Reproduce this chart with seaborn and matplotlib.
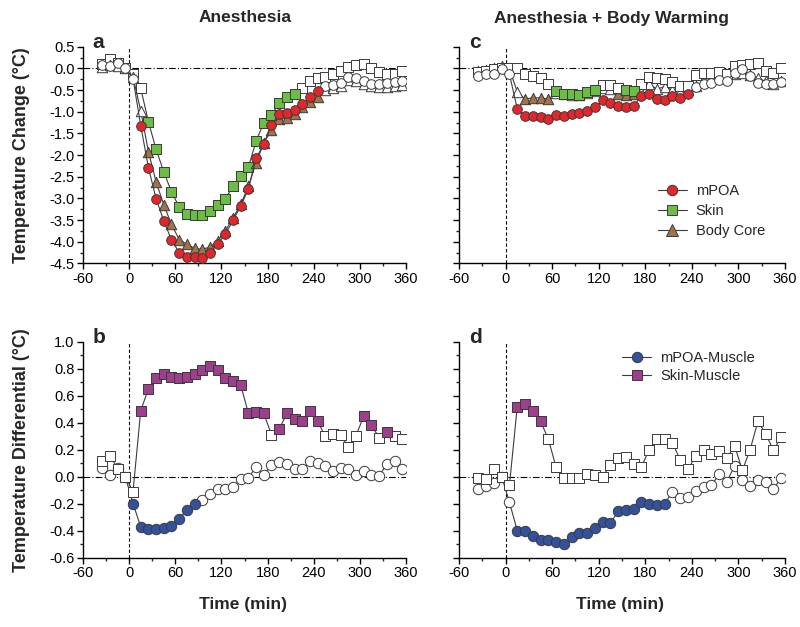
import numpy as np
import pandas as pd
import matplotlib
matplotlib.use("Agg")
import matplotlib.pyplot as plt
import seaborn as sns
from matplotlib.lines import Line2D
from matplotlib.ticker import MultipleLocator, FormatStrFormatter

# time points (min), every 10 min
times = list(range(-35, 360, 10))

# panel a: Anesthesia, temperature change (°C)
a_mpoa = [0.07, 0.05, 0.12, 0.0, -0.24, -1.32, -2.29, -3.01, -3.52, -3.96,
          -4.25, -4.35, -4.35, -4.37, -4.25, -4.05, -3.83, -3.51, -3.18, -2.78,
          -2.08, -1.74, -1.31, -1.05, -1.04, -0.96, -0.82, -0.65, -0.53, -0.41,
          -0.38, -0.33, -0.20, -0.23, -0.30, -0.36, -0.36, -0.33, -0.31, -0.28]
a_skin = [0.09, 0.21, 0.12, 0.0, -0.14, -0.46, -1.23, -1.87, -2.39, -2.85,
          -3.20, -3.35, -3.38, -3.39, -3.29, -3.15, -3.01, -2.72, -2.49, -2.28,
          -1.68, -1.25, -1.08, -0.80, -0.65, -0.58, -0.45, -0.29, -0.22, -0.19,
          -0.12, -0.06, 0.03, 0.08, 0.11, 0.02, -0.08, -0.12, -0.12, -0.05]
a_core = [0.03, 0.08, 0.06, 0.0, -0.20, -0.98, -1.92, -2.62, -3.15, -3.60,
          -3.95, -4.06, -4.15, -4.18, -4.12, -3.98, -3.75, -3.45, -3.14, -2.72,
          -2.18, -1.72, -1.43, -1.18, -1.15, -1.06, -0.89, -0.77, -0.65, -0.50,
          -0.45, -0.40, -0.27, -0.30, -0.36, -0.40, -0.42, -0.42, -0.40, -0.38]
a_mpoa_sig = [(15, 245)]
a_skin_sig = [(25, 215)]
a_core_sig = [(25, 245)]

# panel c: Anesthesia + Body Warming, temperature change (°C)
c_mpoa = [-0.18, -0.14, -0.12, -0.01, -0.14, -0.93, -1.10, -1.11, -1.13, -1.16,
          -1.08, -1.09, -1.06, -1.02, -0.98, -0.90, -0.74, -0.81, -0.86, -0.89,
          -0.86, -0.64, -0.58, -0.71, -0.73, -0.64, -0.69, -0.58, -0.43, -0.37,
          -0.33, -0.27, -0.29, -0.10, -0.02, -0.18, -0.33, -0.37, -0.37, -0.31]
c_skin = [-0.08, -0.06, -0.02, 0.02, 0.02, 0.0, -0.14, -0.18, -0.23, -0.37,
          -0.52, -0.58, -0.60, -0.61, -0.54, -0.50, -0.39, -0.39, -0.45, -0.50,
          -0.52, -0.37, -0.20, -0.23, -0.25, -0.31, -0.41, -0.41, -0.16, -0.10,
          -0.10, -0.08, -0.12, 0.05, 0.08, 0.09, 0.12, -0.05, -0.10, 0.0]
c_core = [-0.05, -0.03, 0.0, 0.05, -0.02, -0.54, -0.71, -0.68, -0.68, -0.71,
          -0.56, -0.60, -0.62, -0.62, -0.57, -0.53, -0.45, -0.47, -0.60, -0.62,
          -0.60, -0.55, -0.36, -0.48, -0.42, -0.50, -0.55, -0.50, -0.40, -0.30,
          -0.25, -0.22, -0.20, -0.12, -0.10, -0.15, -0.22, -0.30, -0.35, -0.30]
c_mpoa_sig = [(15, 235)]
c_skin_sig = [(65, 115), (155, 165)]
c_core_sig = [(25, 55), (145, 165)]

# panel b: Anesthesia, temperature differential (°C)
b_mpoa_muscle = [0.065, 0.01, 0.065, 0.0, -0.20, -0.37, -0.39, -0.39, -0.38, -0.365,
                 -0.31, -0.25, -0.20, -0.17, -0.13, -0.09, -0.09, -0.075, -0.02, -0.01,
                 0.075, 0.01, 0.09, 0.11, 0.095, 0.06, 0.055, 0.115, 0.10, 0.08,
                 0.045, 0.065, 0.055, 0.01, 0.045, 0.01, 0.005, 0.095, 0.115, 0.055]
b_skin_muscle = [0.12, 0.155, 0.06, 0.0, -0.11, 0.49, 0.65, 0.73, 0.76, 0.74,
                 0.73, 0.735, 0.76, 0.79, 0.82, 0.79, 0.73, 0.71, 0.68, 0.47,
                 0.48, 0.47, 0.31, 0.35, 0.47, 0.43, 0.41, 0.49, 0.41, 0.30,
                 0.32, 0.31, 0.22, 0.305, 0.45, 0.38, 0.29, 0.33, 0.30, 0.28]
b_mpoa_sig = [(5, 85)]
b_skin_sig = [(15, 175), (195, 245), (305, 315), (335, 335)]

# panel d: Anesthesia + Body Warming, temperature differential (°C)
d_mpoa_muscle = [-0.09, -0.07, -0.05, 0.0, -0.19, -0.40, -0.40, -0.44, -0.47, -0.47,
                 -0.48, -0.50, -0.45, -0.42, -0.42, -0.38, -0.335, -0.345, -0.255, -0.243,
                 -0.236, -0.19, -0.20, -0.21, -0.20, -0.11, -0.156, -0.15, -0.107, -0.077,
                 -0.065, 0.017, -0.037, 0.08, -0.027, -0.07, -0.027, -0.037, -0.09, -0.012]
d_skin_muscle = [-0.01, -0.02, 0.06, 0.0, -0.06, 0.52, 0.54, 0.49, 0.41, 0.28,
                 0.07, -0.01, -0.01, -0.01, 0.02, 0.01, 0.0, 0.09, 0.14, 0.146,
                 0.097, 0.074, 0.20, 0.28, 0.28, 0.25, 0.124, 0.055, 0.154, 0.20,
                 0.17, 0.19, 0.136, 0.23, 0.047, 0.20, 0.41, 0.32, 0.196, 0.295]
d_mpoa_sig = [(15, 205)]
d_skin_sig = [(15, 45)]

RED = "#e3262b"
GREEN = "#6cbd45"
BROWN = "#a27348"
BLUE = "#34519c"
PURPLE = "#9e3f8e"
LINE = "#3c3c3c"
EDGE = "#3a3a3a"

sns.set_style("ticks")
plt.rcParams["font.family"] = ["Liberation Sans", "DejaVu Sans"]
plt.rcParams["axes.unicode_minus"] = False


def draw_series(ax, values, sig, color, marker, size, z):
    df = pd.DataFrame({"t": times, "v": values})
    df["filled"] = [any(lo <= t <= hi for lo, hi in sig) for t in times]
    sns.lineplot(data=df, x="t", y="v", ax=ax, color=LINE, lw=0.8,
                 zorder=z, legend=False)
    sns.scatterplot(data=df[~df["filled"]], x="t", y="v", ax=ax, marker=marker,
                    s=size, color="white", edgecolor=EDGE, linewidth=0.7,
                    zorder=z + 0.5, legend=False)
    sns.scatterplot(data=df[df["filled"]], x="t", y="v", ax=ax, marker=marker,
                    s=size, color=color, edgecolor=EDGE, linewidth=0.7,
                    zorder=z + 0.6, legend=False)


def style_axes(ax, ylim, major, minor, show_ylabels, letter):
    ax.set_xlim(-60, 360)
    ax.set_ylim(*ylim)
    ax.xaxis.set_major_locator(MultipleLocator(60))
    ax.xaxis.set_minor_locator(MultipleLocator(30))
    ax.yaxis.set_major_locator(MultipleLocator(major))
    ax.yaxis.set_minor_locator(MultipleLocator(minor))
    ax.yaxis.set_major_formatter(FormatStrFormatter("%.1f"))
    ax.tick_params(axis="both", which="major", direction="out", length=4,
                   width=1.0, labelsize=10.5, colors="black", pad=2)
    ax.tick_params(axis="both", which="minor", direction="out", length=2.5,
                   width=1.0)
    if not show_ylabels:
        ax.tick_params(axis="y", which="both", labelleft=False)
    ax.axhline(0, color="black", lw=0.8, ls=(0, (6, 2, 1, 2)), zorder=1)
    ax.axvline(0, color="black", lw=0.8, ls=(0, (3, 2)), zorder=1)
    ax.set_xlabel("")
    ax.set_ylabel("")
    for sp in ["left", "bottom"]:
        ax.spines[sp].set_linewidth(1.0)
        ax.spines[sp].set_color("black")
    sns.despine(ax=ax)
    ax.text(0.03, 1.02, letter, transform=ax.transAxes, fontsize=15,
            fontweight="bold", ha="left", va="center")


fig = plt.figure(figsize=(8, 6.27), dpi=100)
ax_a = fig.add_axes([0.1038, 0.580, 0.4038, 0.3455])
ax_c = fig.add_axes([0.5738, 0.580, 0.4075, 0.3455])
ax_b = fig.add_axes([0.1038, 0.1105, 0.4038, 0.3445])
ax_d = fig.add_axes([0.5738, 0.1105, 0.4075, 0.3445])

SQ, CI, TR = 44, 48, 56

draw_series(ax_a, a_skin, a_skin_sig, GREEN, "s", SQ, 3)
draw_series(ax_a, a_core, a_core_sig, BROWN, "^", TR, 4)
draw_series(ax_a, a_mpoa, a_mpoa_sig, RED, "o", CI, 5)

draw_series(ax_c, c_core, c_core_sig, BROWN, "^", TR, 3)
draw_series(ax_c, c_skin, c_skin_sig, GREEN, "s", SQ, 4)
draw_series(ax_c, c_mpoa, c_mpoa_sig, RED, "o", CI, 5)

draw_series(ax_b, b_mpoa_muscle, b_mpoa_sig, BLUE, "o", 56, 3)
draw_series(ax_b, b_skin_muscle, b_skin_sig, PURPLE, "s", 50, 4)

draw_series(ax_d, d_mpoa_muscle, d_mpoa_sig, BLUE, "o", 56, 3)
draw_series(ax_d, d_skin_muscle, d_skin_sig, PURPLE, "s", 50, 4)

style_axes(ax_a, (-4.5, 0.5), 0.5, 0.25, True, "a")
style_axes(ax_c, (-4.5, 0.5), 0.5, 0.25, False, "c")
style_axes(ax_b, (-0.6, 1.0), 0.2, 0.1, True, "b")
style_axes(ax_d, (-0.6, 1.0), 0.2, 0.1, False, "d")


# legends
def handle(color, marker, ms):
    return Line2D([0], [0], color=LINE, lw=0.8, marker=marker, markersize=ms,
                  markerfacecolor=color, markeredgecolor=EDGE, markeredgewidth=0.7)


ax_c.legend([handle(RED, "o", 7.5), handle(GREEN, "s", 7), handle(BROWN, "^", 8)],
            ["mPOA", "Skin", "Body Core"], loc="upper left",
            bbox_to_anchor=(0.61, 0.365), frameon=False, fontsize=10.5,
            handlelength=2.0, handletextpad=0.6, labelspacing=0.4,
            borderaxespad=0, borderpad=0)
ax_d.legend([handle(BLUE, "o", 7.5), handle(PURPLE, "s", 7)],
            ["mPOA-Muscle", "Skin-Muscle"], loc="upper left",
            bbox_to_anchor=(0.50, 0.955), frameon=False, fontsize=10.5,
            handlelength=2.0, handletextpad=0.6, labelspacing=0.25,
            borderaxespad=0, borderpad=0)

# titles and axis labels
fig.text(245 / 800, 1 - 18 / 627, "Anesthesia", ha="center", va="center",
         fontsize=12.5, fontweight="bold")
fig.text(612 / 800, 1 - 18 / 627, "Anesthesia + Body Warming", ha="center",
         va="center", fontsize=12.5, fontweight="bold")
fig.text(22 / 800, 1 - 155 / 627, "Temperature Change (°C)", rotation=90,
         ha="center", va="center", fontsize=13, fontweight="bold")
fig.text(22 / 800, 1 - 450 / 627, "Temperature Differential (°C)", rotation=90,
         ha="center", va="center", fontsize=13, fontweight="bold")
fig.text(243 / 800, 1 - 604 / 627, "Time (min)", ha="center", va="center",
         fontsize=12.5, fontweight="bold")
fig.text(620 / 800, 1 - 604 / 627, "Time (min)", ha="center", va="center",
         fontsize=12.5, fontweight="bold")

fig.savefig("out.png", dpi=100)
